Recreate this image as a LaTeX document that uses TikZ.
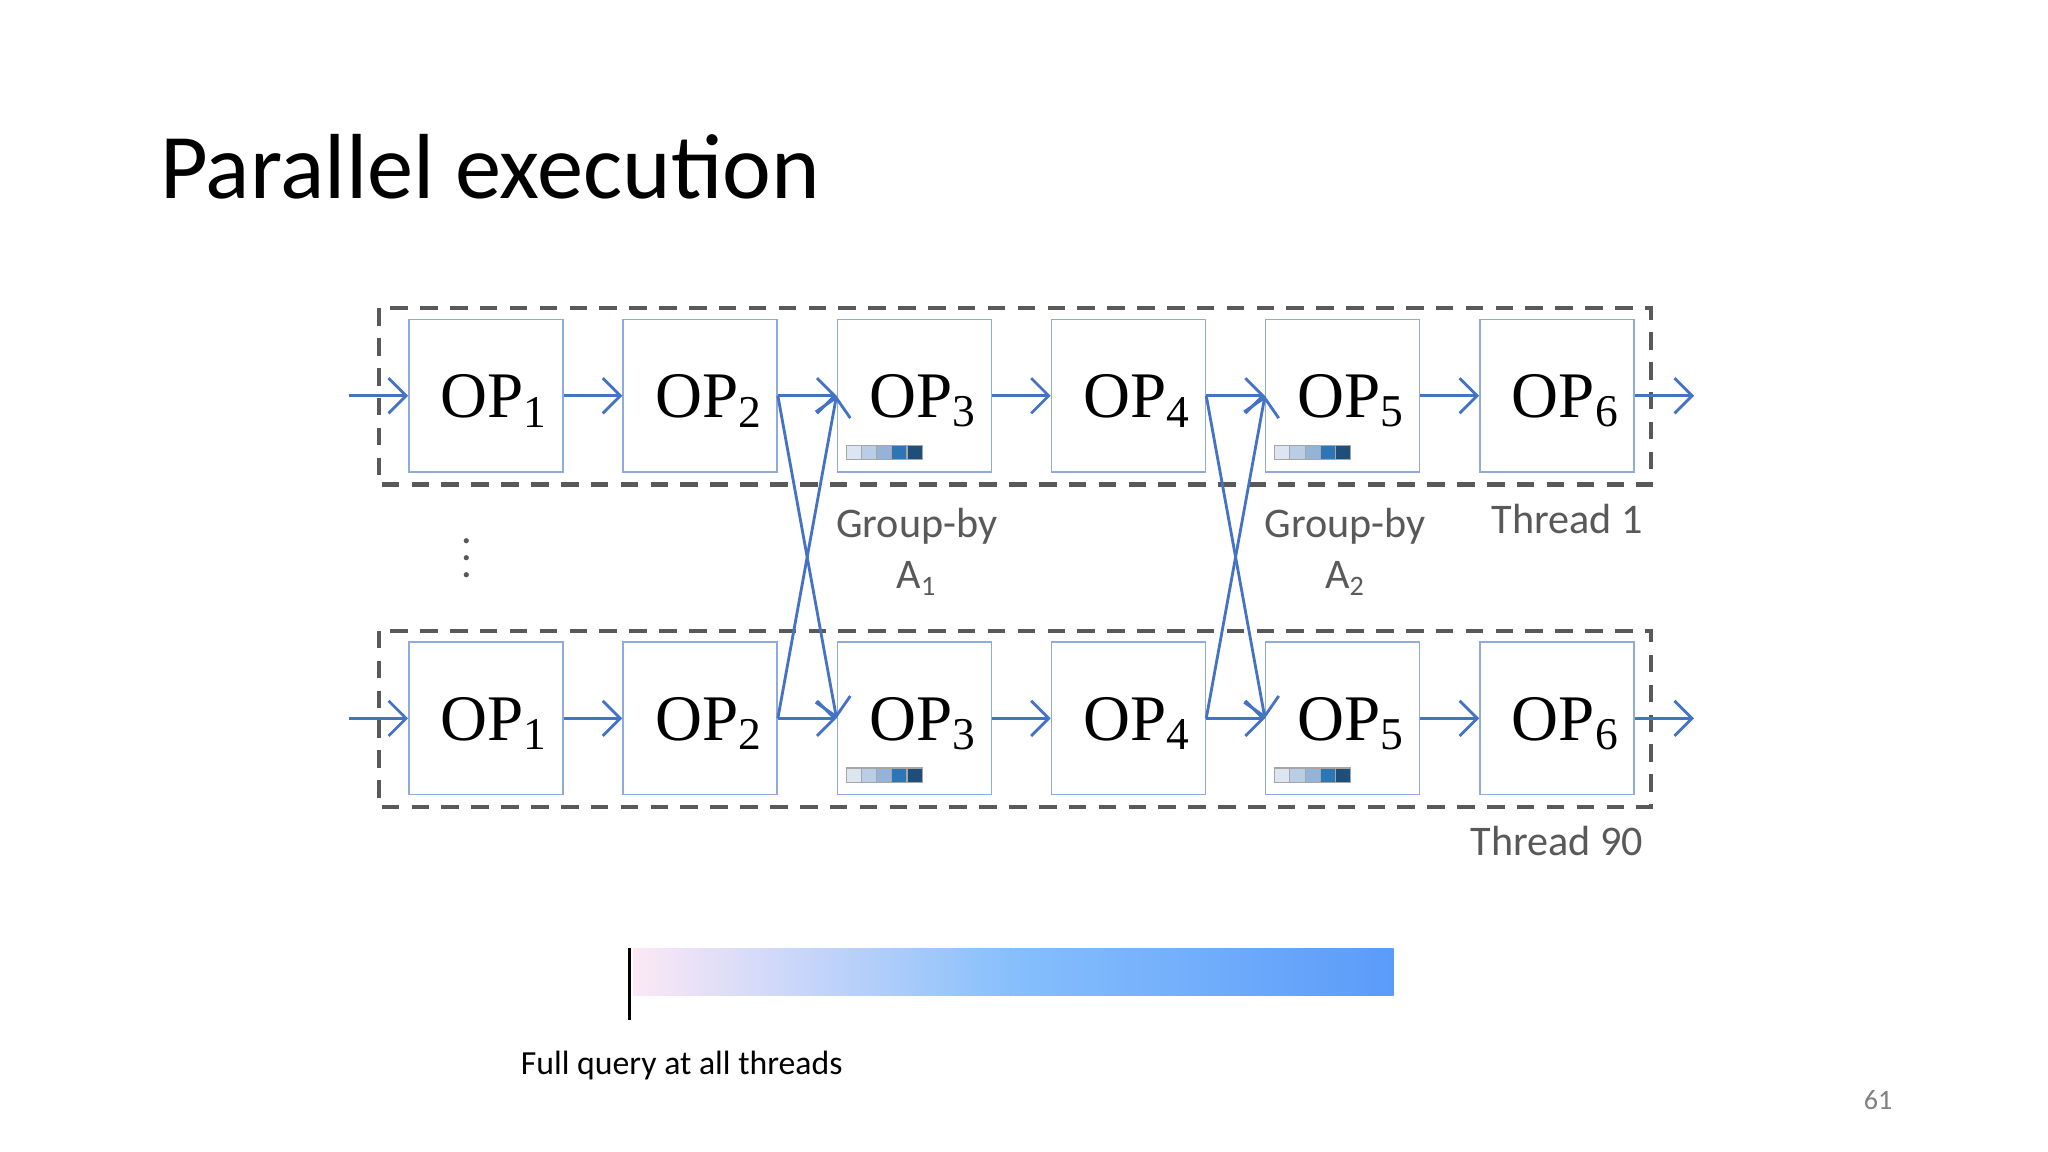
\documentclass[tikz,border=0pt]{standalone}
\usepackage{fontspec}
\setmainfont{Carlito}
\newfontfamily\opfont{Liberation Serif}
\usetikzlibrary{arrows.meta, positioning}
\definecolor{linkcolor}{HTML}{4472C4}
\definecolor{boxcolor}{HTML}{8FAADC}
\definecolor{framecolor}{HTML}{595959}
\definecolor{histA}{HTML}{DCE6F2}
\definecolor{histB}{HTML}{B9CDE5}
\definecolor{histC}{HTML}{95B3D7}
\definecolor{histD}{HTML}{2E75B6}
\definecolor{histE}{HTML}{1F4E79}
\definecolor{barstart}{HTML}{FCE8F6}
\definecolor{barmid}{HTML}{86BFFC}
\definecolor{barend}{HTML}{5B9BFA}
\tikzset{
  opbox/.style={draw=boxcolor, minimum width=118*0.013061cm, minimum height=117*0.013061cm, inner sep=0pt},
  oplabel/.style={font=\opfont\fontsize{18.5}{20}\selectfont, inner sep=0pt},
  link/.style={draw=linkcolor, thick, -{Straight Barb[length=5pt, width=10pt]}},
  threadframe/.style={draw=framecolor, dashed, very thick, dash pattern=on 5pt off 3.5pt},
  note/.style={font=\fontsize{12}{14}\selectfont, text=framecolor},
}
\begin{document}
\begin{tikzpicture}[x=0.013061cm, y=-0.013061cm]
  \useasboundingbox[fill=white] (0,0) rectangle (1568,882);

  \node[anchor=base west, inner sep=0pt, font=\fontsize{26.3}{30}\selectfont] (title) at (122,152) {Parallel execution};

  % thread frames
  \draw[threadframe] (290,236) rectangle (1264,371);
  \draw[threadframe] (290,483) rectangle (1264,618);

  % operator boxes, row t = top, row b = bottom
  \foreach \r/\y in {t/303, b/550} {
    \foreach \i in {1,...,6} {
      \node[opbox] (op\r\i) at ({313 + 59 + (\i-1)*164}, \y) {};
      \node[oplabel, anchor=west] (lbl\r\i) at ({313 + 24 + (\i-1)*164}, \y+4) {OP\textsubscript{\i}};
    }
    \coordinate (in\r) at (267,\y);
    \coordinate (out\r) at (1297,\y);
    \draw[link] (in\r) -- (op\r1.west);
    \draw[link] (op\r6.east) -- (out\r);
    \foreach \i/\j in {1/2, 2/3, 3/4, 4/5, 5/6}
      \draw[link] (op\r\i.east) -- (op\r\j.west);
    % histograms
    \foreach \x in {648, 976}
      \foreach \k/\c in {0/histA, 1/histB, 2/histC, 3/histD, 4/histE}
        \draw[fill=\c, draw=gray!70, line width=0.3pt] ({\x+\k*11.6}, \y+38) rectangle ++(11.6,11);
  }

  % shuffle between threads
  \foreach \i/\j in {2/3, 4/5} {
    \draw[link] (opt\i.east) -- (opb\j.west);
    \draw[link] (opb\i.east) -- (opt\j.west);
  }

  % labels
  \node[note] (gbA) at (702,403) {Group-by};
  \node[note] (gbAa) at (702,443) {A\textsubscript{1}};
  \node[note] (gbB) at (1030,403) {Group-by};
  \node[note] (gbBb) at (1030,443) {A\textsubscript{2}};
  \node[note] (thA) at (1200,397) {Thread 1};
  \node[note] (thB) at (1192,644) {Thread 90};
  \foreach \d in {414, 427, 440}
    \fill[framecolor] (357,\d) circle [radius=2];

  % progress bar
  \shade[left color=barstart, right color=barmid] (485,726) rectangle (776,762);
  \shade[left color=barmid, right color=barend] (776,726) rectangle (1067,762);
  \draw[black, thick] (482,726) -- (482,781);
  \node[font=\fontsize{9.6}{12}\selectfont] (full) at (522,816) {Full query at all threads};
  \node[font=\fontsize{8}{10}\selectfont, text=gray] (page) at (1438,842) {61};
\end{tikzpicture}
\end{document}
